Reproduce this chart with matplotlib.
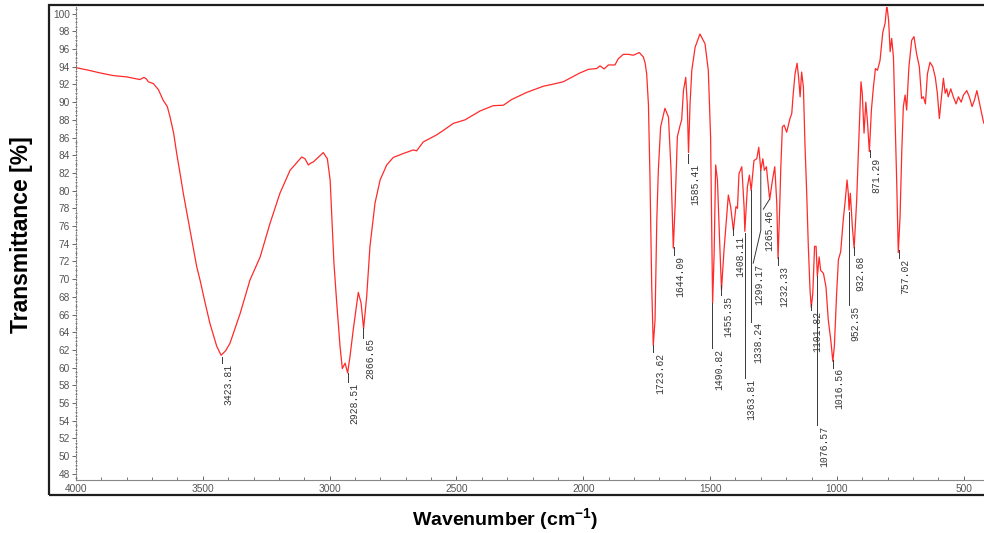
import matplotlib
matplotlib.use('Agg')
import matplotlib.pyplot as plt
from matplotlib.patches import Rectangle
from matplotlib.ticker import MultipleLocator

# FTIR spectrum (cm-1, %T)
wavenumber = [4000, 3950, 3905, 3853, 3800, 3748, 3732, 3722, 3715, 3695, 3675, 3656, 3640,
              3629, 3615, 3603, 3590, 3577, 3550, 3524, 3511, 3490, 3472, 3445, 3428, 3410,
              3393, 3353, 3314, 3274, 3235, 3196, 3156, 3110, 3097, 3084, 3075, 3064, 3051,
              3025, 3009, 2998, 2992, 2983, 2972, 2959, 2950, 2939, 2929, 2920, 2907, 2887,
              2876, 2866, 2854, 2841, 2821, 2801, 2775, 2749, 2709, 2670, 2657, 2631, 2578,
              2552, 2512, 2466, 2407, 2355, 2315, 2282, 2223, 2157, 2124, 2079, 2039, 2013,
              1980, 1947, 1934, 1918, 1901, 1875, 1862, 1842, 1822, 1803, 1779, 1763, 1756,
              1750, 1743, 1737, 1730, 1724, 1717, 1710, 1704, 1695, 1678, 1664, 1654, 1645,
              1638, 1629, 1618, 1612, 1605, 1596, 1590, 1585, 1579, 1572, 1559, 1540, 1520,
              1507, 1498, 1494, 1490, 1484, 1478, 1471, 1463, 1455, 1445, 1428, 1419, 1408,
              1398, 1392, 1386, 1375, 1366, 1363, 1353, 1345, 1338, 1327, 1316, 1308, 1300,
              1292, 1286, 1278, 1270, 1265, 1254, 1245, 1237, 1232, 1227, 1221, 1215, 1208,
              1198, 1185, 1178, 1172, 1165, 1157, 1151, 1145, 1139, 1132, 1126, 1119, 1113,
              1106, 1101, 1095, 1088, 1082, 1077, 1070, 1064, 1053, 1043, 1034, 1024, 1016,
              1010, 1001, 994, 985, 975, 967, 960, 955, 952, 947, 939, 932, 922, 915, 905,
              900, 893, 886, 880, 872, 864, 856, 848, 840, 830, 819, 810, 803, 796, 790, 784,
              777, 771, 764, 758, 751, 744, 738, 731, 725, 716, 705, 696, 686, 675, 666, 659,
              651, 643, 633, 622, 612, 604, 596, 589, 580, 573, 567, 561, 551, 541, 530, 521,
              510, 501, 488, 478, 467, 458, 448, 440, 432, 424, 420]
transmittance = [93.9, 93.6, 93.3, 93.0, 92.85, 92.55, 92.8, 92.6, 92.3, 92.1, 91.4, 90.2, 89.5,
                 88.3, 86.5, 84.2, 82.0, 79.7, 75.5, 71.4, 69.9, 67.2, 65.0, 62.4, 61.4, 61.9,
                 62.75, 66.1, 69.9, 72.5, 76.3, 79.7, 82.3, 83.8, 83.6, 82.9, 83.1, 83.25, 83.6,
                 84.3, 83.6, 81.2, 77.4, 71.8, 67.3, 62.4, 59.9, 60.5, 59.4, 61.2, 64.25, 68.5,
                 67.3, 64.4, 68.0, 73.7, 78.6, 81.2, 82.9, 83.75, 84.2, 84.6, 84.5, 85.5, 86.3,
                 86.8, 87.6, 88.0, 89.0, 89.6, 89.65, 90.3, 91.1, 91.8, 92.0, 92.3, 92.9, 93.3,
                 93.7, 93.8, 94.1, 93.75, 94.2, 94.2, 94.9, 95.4, 95.4, 95.3, 95.6, 95.1, 94.4,
                 93.2, 89.7, 81.5, 69.1, 62.5, 65.4, 76.7, 82.3, 87.2, 89.3, 88.3, 82.3, 73.5,
                 78.2, 86.1, 87.4, 88.0, 91.3, 92.8, 89.8, 84.3, 89.8, 93.6, 96.2, 97.7, 96.6,
                 93.6, 86.1, 76.7, 67.3, 72.9, 82.9, 81.2, 74.8, 68.8, 73.3, 79.5, 78.2, 75.5,
                 78.2, 78.0, 81.9, 82.7, 78.2, 75.4, 80.4, 81.75, 80.0, 83.4, 83.6, 84.9, 82.3,
                 83.6, 82.3, 82.7, 80.4, 79.0, 81.2, 82.7, 78.6, 72.3, 76.7, 82.7, 87.2, 87.4,
                 86.6, 88.15, 88.7, 91.0, 93.2, 94.4, 92.8, 90.6, 93.4, 91.7, 85.3, 79.7, 74.0,
                 68.8, 66.8, 68.4, 73.7, 73.7, 70.3, 72.5, 71.0, 70.65, 69.1, 65.4, 63.1, 60.7,
                 62.4, 68.4, 72.2, 73.1, 76.7, 78.9, 81.2, 79.7, 77.8, 79.7, 75.9, 73.5, 78.9,
                 84.6, 92.3, 91.0, 86.5, 90.0, 88.0, 84.4, 89.1, 91.7, 93.8, 93.6, 94.7, 97.9,
                 98.9, 101.0, 99.2, 95.7, 97.2, 95.1, 88.3, 80.8, 73.0, 77.0, 84.6, 89.5, 90.8,
                 89.1, 94.0, 97.0, 97.4, 95.5, 94.0, 90.4, 90.6, 89.8, 93.2, 94.5, 94.0, 92.8,
                 91.0, 88.15, 90.2, 92.7, 91.0, 91.5, 90.6, 91.5, 90.6, 89.8, 90.6, 90.0, 90.8,
                 91.3, 90.6, 89.5, 90.2, 91.3, 90.2, 89.1, 88.0, 87.6]

# peak labels: text, peak position, leader top / bottom (%T)
peak_text = ['3423.81', '2928.51', '2866.65', '1723.62', '1644.09', '1585.41', '1490.82',
             '1455.35', '1408.11', '1363.81', '1338.24', '1232.33', '1101.82', '1076.57',
             '1016.56', '952.35', '932.68', '871.29', '757.02']
peak_pos = [3423.81, 2928.51, 2866.65, 1723.62, 1644.09, 1585.41, 1490.82, 1455.35, 1408.11,
            1363.81, 1338.24, 1232.33, 1101.82, 1076.57, 1016.56, 952.35, 932.68, 871.29, 757.02]
peak_top = [61.2, 59.4, 64.5, 62.6, 73.6, 84.1, 67.3, 69.3, 75.9, 75.2, 80.1, 72.5, 67.2,
            70.3, 60.9, 77.6, 73.6, 84.6, 73.3]
peak_bottom = [60.5, 58.4, 63.4, 61.8, 72.7, 83.1, 62.2, 68.2, 75.0, 58.8, 65.2, 71.6, 66.5,
               53.5, 60.0, 67.1, 72.7, 83.8, 72.4]

# the two labels with bent leaders
bent_text = ['1299.17', '1265.46']
bent_x = [[1300, 1300, 1330], [1266, 1290]]
bent_y = [[82.3, 75.5, 71.8], [79.0, 77.9]]

plt.rcParams['font.family'] = ['Liberation Sans', 'DejaVu Sans']
plt.rcParams['mathtext.fontset'] = 'custom'
plt.rcParams['mathtext.rm'] = 'Liberation Sans:bold'
plt.rcParams['mathtext.bf'] = 'Liberation Sans:bold'

fig = plt.figure(figsize=(9.84, 5.33), dpi=100)
ax = fig.add_axes([76/984, 53/533, 908/984, 473/533])

ax.plot(wavenumber, transmittance, color='#ff2a2a', lw=0.9)

lab_col = '#383838'
for txt, w, t0, t1 in zip(peak_text, peak_pos, peak_top, peak_bottom):
    ax.plot([w, w], [t0, t1], color=lab_col, lw=0.7)
    ax.annotate(txt, xy=(w, t1), xytext=(1.2, -0.5), textcoords='offset points',
                rotation=90, ha='left', va='top', fontsize=7, color=lab_col,
                family='Liberation Mono')
for txt, bx, by in zip(bent_text, bent_x, bent_y):
    ax.plot(bx, by, color=lab_col, lw=0.7)
    ax.annotate(txt, xy=(bx[-1], by[-1]), xytext=(0.8, -0.5), textcoords='offset points',
                rotation=90, ha='left', va='top', fontsize=7, color=lab_col,
                family='Liberation Mono')

ax.set_xlim(4000, 420)
ax.set_ylim(47.3, 100.75)
ax.xaxis.set_major_locator(MultipleLocator(500))
ax.xaxis.set_minor_locator(MultipleLocator(100))
ax.yaxis.set_major_locator(MultipleLocator(2))
ax.yaxis.set_minor_locator(MultipleLocator(0.5))

for side in ['top', 'right']:
    ax.spines[side].set_visible(False)
ax.spines['left'].set_color('#777777')
ax.spines['left'].set_linestyle((0, (1, 1.5)))
ax.spines['left'].set_linewidth(0.8)
ax.spines['bottom'].set_color('#888888')
ax.spines['bottom'].set_linewidth(0.8)

ax.tick_params(axis='y', which='major', direction='out', length=3, width=0.7,
               color='#666666', labelsize=7.3, labelcolor='#555555', pad=1.5)
ax.tick_params(axis='y', which='minor', direction='inout', length=2, width=0.6, color='#777777')
ax.tick_params(axis='x', which='major', direction='in', length=3, width=0.7,
               color='#666666', labelsize=7.3, labelcolor='#555555', pad=3)
ax.tick_params(axis='x', which='minor', direction='in', length=2, width=0.7, color='#777777')

# outer frame of the original software export
fig.add_artist(Rectangle((49/984, 38/533), 1.0, 490/533, transform=fig.transFigure,
                         fill=False, lw=1.6, ec='#1e1e1e'))

fig.text(22/984, 1 - 235/533, 'Transmittance [%]', rotation=90, ha='center', va='center',
         fontsize=16.5, fontweight='bold')
fig.text(505/984, 1 - 520/533, r'Wavenumber (cm$^{-1}$)', ha='center', va='center',
         fontsize=14, fontweight='bold')

fig.savefig('out.png', dpi=100)
